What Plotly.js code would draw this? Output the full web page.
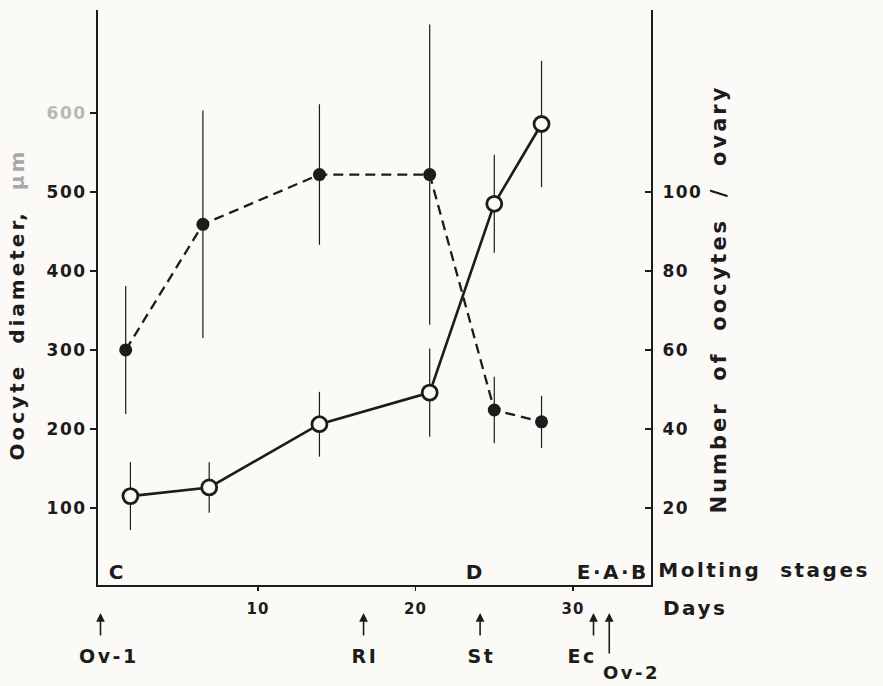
<!DOCTYPE html>
<html>
<head>
<meta charset="utf-8">
<script src="https://cdn.plot.ly/plotly-3.0.1.min.js"></script>
<style>
  html, body { margin: 0; padding: 0; background: #fcfaf7; }
  #chart { width: 883px; height: 686px; }
  .annotation text { letter-spacing: 2.5px; }
  .annotation[data-index="0"] text, .annotation[data-index="1"] text { letter-spacing: 3px; }
  .ytick text, .y2tick text { letter-spacing: 1.5px; }
  .xtick text { letter-spacing: 1px; }
</style>
</head>
<body>
<div id="chart"></div>
<script>
// ---- data ----
const openDays   = [1.9, 6.9, 13.9, 20.9, 25.0, 28.0];
const diameter   = [115, 126, 206, 246, 485, 586];      // oocyte diameter, µm (open circles)
const diameterErr= [43, 32, 41, 56, 62, 80];

const filledDays = [1.6, 6.5, 13.9, 20.9, 25.0, 28.0];
const number     = [60, 91.8, 104.4, 104.4, 44.8, 41.8]; // number of oocytes / ovary (filled)
const numberErr  = [16.2, 28.8, 17.8, 38, 8.4, 6.6];

const diamTicks  = [100, 200, 300, 400, 500, 600];
const numTicks   = [20, 40, 60, 80, 100];
const dayTicks   = [10, 20, 30];

const stageNames = ['C', 'D', 'E·A·B'];
const eventNames = ['Ov-1', 'RI', 'St', 'Ec', 'Ov-2'];
const eventDays  = [0, 16.7, 24.1, 31.3, 32.3];

// ---- layout helpers (pixel -> paper) ----
const L = 98, R = 651, T = 10, B = 585;
const px = x => (x - L) / (R - L);
const py = y => (B - y) / (B - T);
const ink = '#1c1c1c';
const FONT = 'DejaVu Sans, sans-serif';
const f = (size) => ({ family: FONT, size: size, color: ink, weight: 'bold' });

const traces = [
  {
    x: filledDays, y: number, yaxis: 'y', type: 'scatter', mode: 'lines+markers',
    line: { color: ink, width: 2.3, dash: '10px,6px' },
    marker: { symbol: 'circle', size: 13, color: ink },
    error_y: { type: 'data', array: numberErr, visible: true, width: 0, thickness: 1.2, color: ink },
    showlegend: false, hoverinfo: 'x+y'
  },
  {
    x: openDays, y: diameter, yaxis: 'y2', type: 'scatter', mode: 'lines+markers',
    line: { color: ink, width: 2.6 },
    marker: { symbol: 'circle', size: 15, color: '#fcfaf7', line: { color: ink, width: 2.8 } },
    error_y: { type: 'data', array: diameterErr, visible: true, width: 0, thickness: 1.2, color: ink },
    showlegend: false, hoverinfo: 'x+y'
  }
];

const paperNote = (text, x, y, size, extra) => Object.assign({
  text: text, xref: 'paper', yref: 'paper', x: px(x), y: py(y),
  xanchor: 'center', yanchor: 'middle', showarrow: false, font: f(size)
}, extra || {});

const annotations = [
  paperNote('Oocyte\u00a0 diameter,\u00a0 <span style="color:#a8a8a8">µm</span>', 17, 305, 20, { textangle: -90 }),
  paperNote('Number\u00a0 of\u00a0 oocytes\u00a0 /\u00a0 ovary', 719, 299, 21, { textangle: -90 }),
  paperNote('Molting\u00a0 stages', 764, 570, 20),
  paperNote('Days', 695, 608, 20)
];

const stageX = [117, 475, 613];
stageNames.forEach((s, i) => annotations.push(paperNote(s, stageX[i], 572, 20)));

const labelShift = [8, 1, 1, -12, 22];
const labelY = [656, 656, 656, 656, 672];
const labelSize = [19, 19, 19, 19, 18];
const tailLen = [24, 24, 24, 24, 42];
eventNames.forEach((n, i) => {
  annotations.push({
    text: '', xref: 'x', yref: 'paper', x: eventDays[i], y: py(613),
    ax: 0, ay: tailLen[i], showarrow: true, arrowhead: 2, arrowsize: 1.1, arrowwidth: 1.6, arrowcolor: ink
  });
  annotations.push({
    text: n, xref: 'x', yref: 'paper', x: eventDays[i], y: py(labelY[i]), xshift: labelShift[i],
    xanchor: 'center', yanchor: 'middle', showarrow: false, font: f(labelSize[i])
  });
});

const layout = {
  width: 883, height: 686,
  margin: { l: L, r: 883 - R, t: T, b: 686 - B, pad: 0 },
  paper_bgcolor: '#fcfaf7', plot_bgcolor: 'rgba(0,0,0,0)',
  showlegend: false,
  xaxis: {
    range: [-0.159, 34.95], showgrid: false, zeroline: false,
    showline: true, linecolor: ink, linewidth: 2,
    tickvals: dayTicks, ticks: 'outside', ticklen: 4, tickwidth: 1.5, tickcolor: ink,
    ticklabelstandoff: 5,
    tickfont: f(15)
  },
  yaxis: {
    range: [0.5, 146.06], side: 'right', showgrid: false, zeroline: false,
    showline: true, linecolor: ink, linewidth: 2,
    tickvals: numTicks, ticks: 'inside', ticklen: 6, tickwidth: 1.5, tickcolor: ink,
    ticklabelstandoff: 6,
    tickfont: f(17)
  },
  yaxis2: {
    range: [2.5, 730.3], side: 'left', overlaying: 'y', showgrid: false, zeroline: false,
    showline: true, linecolor: ink, linewidth: 2,
    tickvals: diamTicks,
    ticktext: diamTicks.map(v => v === 600 ? '<span style="color:#b8b8b8">600</span>' : String(v)),
    ticks: 'outside', ticklen: 6, tickwidth: 1.5, tickcolor: ink,
    tickfont: f(17)
  },
  annotations: annotations
};

Plotly.newPlot('chart', traces, layout, { displayModeBar: false, staticPlot: true });
</script>
</body>
</html>
